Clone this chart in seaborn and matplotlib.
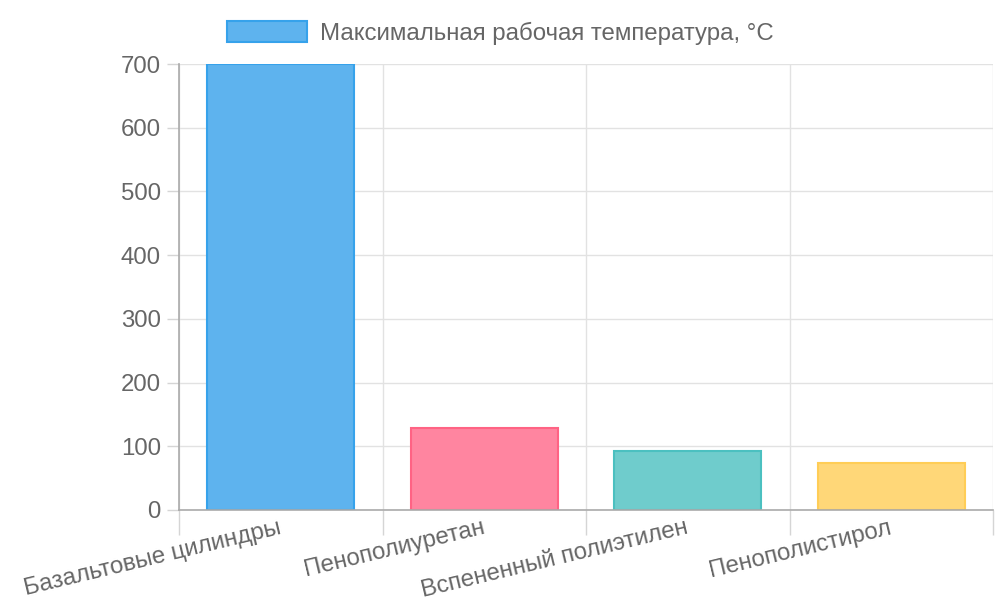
import pandas as pd
import matplotlib as mpl
mpl.use('Agg')
import matplotlib.pyplot as plt
from matplotlib.patches import Patch
import seaborn as sns

# data
materials = ['Базальтовые цилиндры', 'Пенополиуретан', 'Вспененный полиэтилен', 'Пенополистирол']
max_temp = [700, 128, 93, 73]
series_name = 'Максимальная рабочая температура, °C'
fill_colors = ['#5EB3EE', '#FF85A0', '#6FCCCC', '#FFD778']
edge_colors = ['#36A2EB', '#FF6384', '#4BC0C0', '#FFCD56']

df = pd.DataFrame({'material': materials, 'temp': max_temp})

sns.set_style('white')
plt.rcParams['font.family'] = ['Liberation Sans', 'DejaVu Sans']

fig = plt.figure(figsize=(10, 6), dpi=100)
ax = fig.add_axes([0.179, 0.15, 0.814, 0.7433])

sns.barplot(data=df, x='material', y='temp', hue='material', palette=fill_colors,
            legend=False, width=0.72, ax=ax, saturation=1)
for patch, ec in zip(ax.patches, edge_colors):
    patch.set_edgecolor(ec)
    patch.set_linewidth(1.5)

ax.set_xlim(-0.5, len(materials) - 0.5)
ax.set_ylim(0, 700)
ax.set_yticks(range(0, 701, 100))
ax.set_xticks(range(len(materials)))
ax.set_xticklabels(materials, rotation=13.5, ha='right', va='center',
                   rotation_mode='anchor')
ax.set_xticks([i - 0.5 for i in range(len(materials) + 1)], minor=True)
ax.set_xlabel('')
ax.set_ylabel('')

ax.tick_params(axis='x', which='major', bottom=False, length=0, pad=12.5,
               labelsize=17.3, labelcolor='#666666')
ax.tick_params(axis='x', which='minor', bottom=True, length=18, width=1, color='#d5d5d5')
ax.tick_params(axis='y', left=True, length=9, width=1, color='#d5d5d5', pad=4,
               labelsize=17.3, labelcolor='#666666')

ax.grid(True, axis='y', color='#e2e2e2', linewidth=1)
ax.grid(True, axis='x', which='minor', color='#e2e2e2', linewidth=1)
ax.grid(False, axis='x', which='major')
ax.set_axisbelow(True)

for side in ['top', 'right']:
    ax.spines[side].set_visible(False)
ax.spines['left'].set_color('#aaaaaa')
ax.spines['bottom'].set_color('#aaaaaa')
ax.spines['left'].set_linewidth(1.2)
ax.spines['bottom'].set_linewidth(1.2)

handle = Patch(facecolor=fill_colors[0], edgecolor=edge_colors[0], linewidth=1.5)
fig.legend([handle], [series_name], loc='center', bbox_to_anchor=(0.5, 0.945),
           frameon=False, fontsize=17.3, labelcolor='#666666',
           handlelength=3.33, handleheight=0.95, handletextpad=0.55)

fig.savefig('out.png', dpi=100)
